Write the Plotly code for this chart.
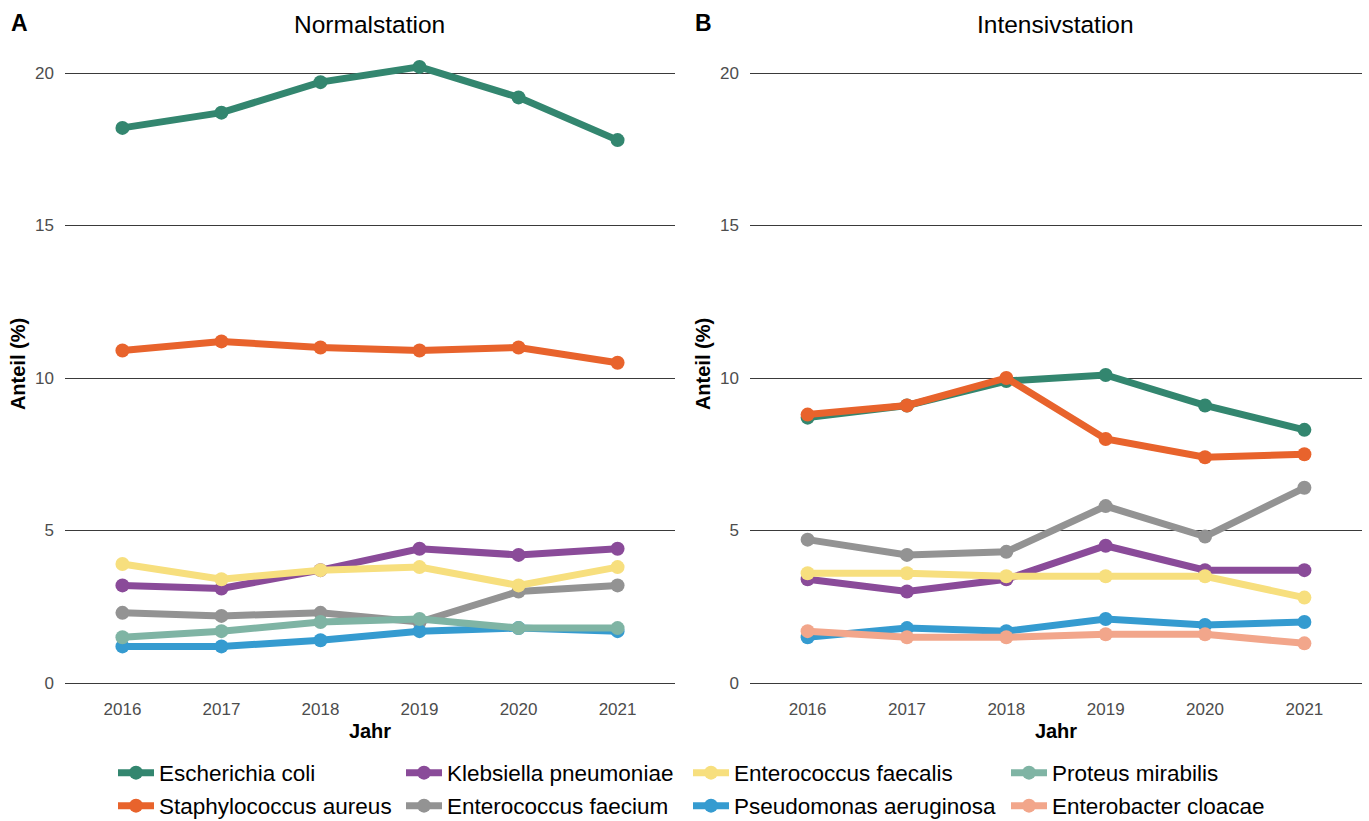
import plotly.graph_objects as go

# Years on the x axis
years = [2016, 2017, 2018, 2019, 2020, 2021]

# Share (%) of isolates per pathogen, general ward
normal_ecoli = [18.2, 18.7, 19.7, 20.2, 19.2, 17.8]
normal_saureus = [10.9, 11.2, 11.0, 10.9, 11.0, 10.5]
normal_kpneu = [3.2, 3.1, 3.7, 4.4, 4.2, 4.4]
normal_efaecium = [2.3, 2.2, 2.3, 2.0, 3.0, 3.2]
normal_efaecalis = [3.9, 3.4, 3.7, 3.8, 3.2, 3.8]
normal_paer = [1.2, 1.2, 1.4, 1.7, 1.8, 1.7]
normal_pmir = [1.5, 1.7, 2.0, 2.1, 1.8, 1.8]

# Share (%) of isolates per pathogen, intensive care unit
icu_ecoli = [8.7, 9.1, 9.9, 10.1, 9.1, 8.3]
icu_saureus = [8.8, 9.1, 10.0, 8.0, 7.4, 7.5]
icu_kpneu = [3.4, 3.0, 3.4, 4.5, 3.7, 3.7]
icu_efaecium = [4.7, 4.2, 4.3, 5.8, 4.8, 6.4]
icu_efaecalis = [3.6, 3.6, 3.5, 3.5, 3.5, 2.8]
icu_paer = [1.5, 1.8, 1.7, 2.1, 1.9, 2.0]
icu_ecloacae = [1.7, 1.5, 1.5, 1.6, 1.6, 1.3]

y_ticks = [0, 5, 10, 15, 20]

# name and colour, in legend order (column by column, two rows)
species = [
    ("Escherichia coli", "#33866F"),
    ("Staphylococcus aureus", "#E8632C"),
    ("Klebsiella pneumoniae", "#8A4B99"),
    ("Enterococcus faecium", "#939393"),
    ("Enterococcus faecalis", "#F7DF7E"),
    ("Pseudomonas aeruginosa", "#359BD0"),
    ("Proteus mirabilis", "#7FB4A4"),
    ("Enterobacter cloacae", "#F2A68B"),
]

normal = {
    "Escherichia coli": normal_ecoli,
    "Staphylococcus aureus": normal_saureus,
    "Klebsiella pneumoniae": normal_kpneu,
    "Enterococcus faecium": normal_efaecium,
    "Enterococcus faecalis": normal_efaecalis,
    "Pseudomonas aeruginosa": normal_paer,
    "Proteus mirabilis": normal_pmir,
}
icu = {
    "Escherichia coli": icu_ecoli,
    "Staphylococcus aureus": icu_saureus,
    "Klebsiella pneumoniae": icu_kpneu,
    "Enterococcus faecium": icu_efaecium,
    "Enterococcus faecalis": icu_efaecalis,
    "Pseudomonas aeruginosa": icu_paer,
    "Enterobacter cloacae": icu_ecloacae,
}

W, H = 1369, 821
font = "Liberation Sans, Arial, sans-serif"

# legend grid: one legend box per entry, laid out in 4 columns x 2 rows
legend_col_px = [113, 401, 688, 1006]
legend_row_px = [773, 806]

fig = go.Figure()
shown = set()
legend_layout = {}
for i, (name, color) in enumerate(species):
    leg_id = "legend" if i == 0 else f"legend{i + 1}"
    col, row = divmod(i, 2)
    legend_layout[leg_id] = dict(
        x=legend_col_px[col] / W, y=1 - legend_row_px[row] / H,
        xanchor="left", yanchor="middle", orientation="h",
        font=dict(size=22.5, family=font, color="black"),
        itemwidth=36, bgcolor="rgba(0,0,0,0)",
    )
    for data, xa, ya in ((normal, "x", "y"), (icu, "x2", "y2")):
        if name not in data:
            continue
        fig.add_trace(go.Scatter(
            x=years, y=data[name], name=name, mode="lines+markers",
            line=dict(color=color, width=7),
            marker=dict(color=color, size=14),
            xaxis=xa, yaxis=ya, legend=leg_id, legendgroup=name,
            showlegend=name not in shown,
        ))
        shown.add(name)

ydom = [1 - 683 / H, 1 - 45 / H]
yrange = [0, (683 - 45) / 30.5]

xcommon = dict(range=[2015.42, 2021.58], tickvals=years, showgrid=False,
               zeroline=False, showline=False, ticks="", ticklabelstandoff=14,
               tickfont=dict(size=17, color="#4D4D4D"),
               title=dict(text="<b>Jahr</b>", font=dict(size=20, color="black"), standoff=5))
ycommon = dict(range=yrange, tickvals=y_ticks, showgrid=True, gridcolor="#3A3A3A",
               gridwidth=1, zeroline=True, zerolinecolor="#3A3A3A", zerolinewidth=1,
               showline=False, ticks="", ticklabelstandoff=10,
               tickfont=dict(size=17, color="#4D4D4D"),
               title=dict(text="<b>Anteil (%)</b>", font=dict(size=20, color="black"), standoff=4))

fig.update_layout(
    width=W, height=H, margin=dict(l=0, r=0, t=0, b=0, autoexpand=False),
    paper_bgcolor="white", plot_bgcolor="white",
    font=dict(family=font),
    xaxis=dict(domain=[65 / W, 675 / W], anchor="y", **xcommon),
    xaxis2=dict(domain=[750 / W, 1362 / W], anchor="y2", **xcommon),
    yaxis=dict(domain=ydom, anchor="x", **ycommon),
    yaxis2=dict(domain=ydom, anchor="x2", **ycommon),
    annotations=[
        dict(text="Normalstation", x=369 / W, y=1 - 25 / H, xref="paper", yref="paper",
             xanchor="center", yanchor="middle", showarrow=False,
             font=dict(size=24.5, color="black")),
        dict(text="Intensivstation", x=1055 / W, y=1 - 25 / H, xref="paper", yref="paper",
             xanchor="center", yanchor="middle", showarrow=False,
             font=dict(size=24.5, color="black")),
        dict(text="<b>A</b>", x=19 / W, y=1 - 23 / H, xref="paper", yref="paper",
             xanchor="center", yanchor="middle", showarrow=False,
             font=dict(size=23, color="black")),
        dict(text="<b>B</b>", x=704 / W, y=1 - 23 / H, xref="paper", yref="paper",
             xanchor="center", yanchor="middle", showarrow=False,
             font=dict(size=23, color="black")),
    ],
    **legend_layout,
)

fig.write_html("out.html")
